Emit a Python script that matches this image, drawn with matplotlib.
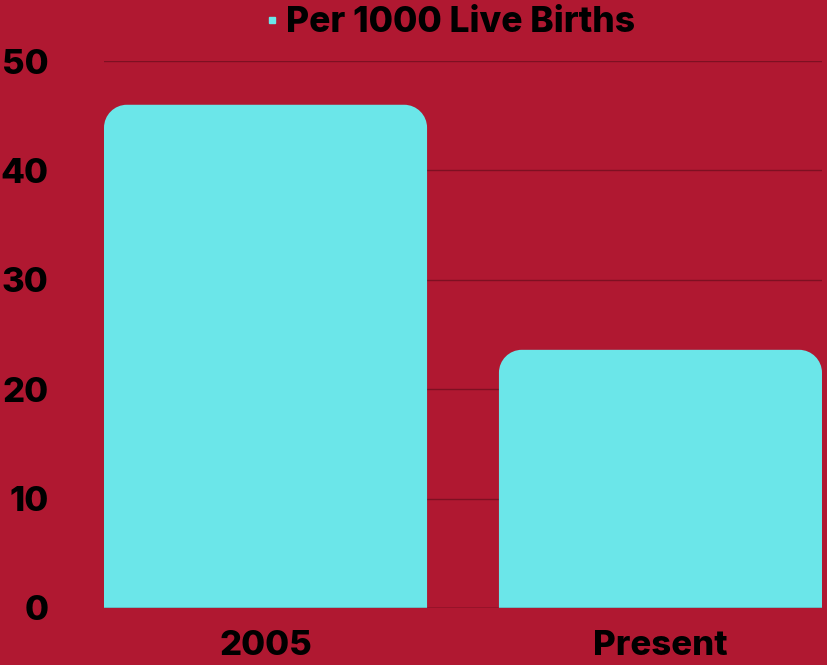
import matplotlib
matplotlib.use("Agg")
import matplotlib.pyplot as plt
from matplotlib.path import Path
from matplotlib.patches import PathPatch
from matplotlib.lines import Line2D

categories = ["2005", "Present"]
values = [46.0, 23.6]
series_name = "Per 1000 Live Births"
y_ticks = [0, 10, 20, 30, 40, 50]

BG = "#B01831"
BAR = "#6BE6E9"
GRID = "#7E1022"
FONT = "Inter"

fig = plt.figure(figsize=(8.28, 6.65), dpi=100, facecolor=BG)
ax = fig.add_axes([104/828, 57/665, 718/828, 547/665])
ax.set_facecolor(BG)

w = 0.818
xs = list(range(len(categories)))
bars = ax.bar(xs, values, width=w, color=BAR, zorder=3)
ax.set_xlim(-w/2, len(categories) - 1 + w/2)
ax.set_ylim(0, 50)

# rounded top corners
rx, ry = 0.058, 2.1
k = 0.5523
for b in bars:
    x0, y0 = b.get_x(), b.get_y()
    x1, y1 = x0 + b.get_width(), y0 + b.get_height()
    verts = [
        (x0, y0), (x0, y1 - ry),
        (x0, y1 - ry + k*ry), (x0 + rx - k*rx, y1), (x0 + rx, y1),
        (x1 - rx, y1),
        (x1 - rx + k*rx, y1), (x1, y1 - ry + k*ry), (x1, y1 - ry),
        (x1, y0), (x0, y0)]
    codes = [Path.MOVETO, Path.LINETO,
             Path.CURVE4, Path.CURVE4, Path.CURVE4,
             Path.LINETO,
             Path.CURVE4, Path.CURVE4, Path.CURVE4,
             Path.LINETO, Path.CLOSEPOLY]
    ax.add_patch(PathPatch(Path(verts, codes), facecolor=BAR, edgecolor="none", zorder=3))
    b.set_visible(False)

ax.set_yticks(y_ticks)
ax.yaxis.grid(True, color=GRID, linewidth=1, zorder=1)
ax.axhline(0, color="#5a0a18", linewidth=1, zorder=4)
for s in ax.spines.values():
    s.set_visible(False)
ax.tick_params(axis="both", length=0, colors="black")
ax.tick_params(axis="y", pad=40)
ax.tick_params(axis="x", pad=16)
ax.set_xticks(xs)
ax.set_xticklabels(categories)
for lab in ax.get_xticklabels() + ax.get_yticklabels():
    lab.set_fontfamily(FONT)
    lab.set_fontweight("heavy")
    lab.set_fontsize(25)

handle = Line2D([], [], marker="s", linestyle="none", markersize=5,
                markerfacecolor=BAR, markeredgecolor=BAR)
leg = fig.legend([handle], [series_name], loc="center", bbox_to_anchor=(449/828, 1 - 23/665),
                 frameon=False, handletextpad=0.15, handlelength=0.5,
                 prop={"family": FONT, "weight": "heavy", "size": 25.5})

fig.savefig("out.png", dpi=100, facecolor=BG)
